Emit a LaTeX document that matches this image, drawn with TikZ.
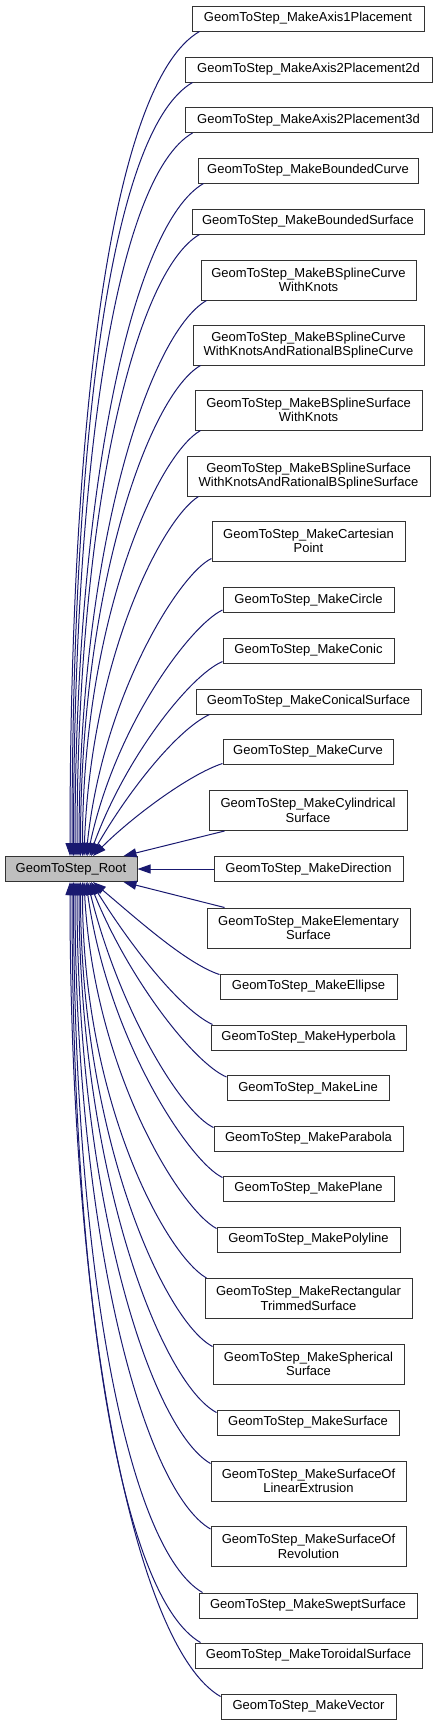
\documentclass[tikz,border=0pt]{standalone}
\usepackage{fontspec}
\setmainfont{Liberation Sans}
\usetikzlibrary{arrows.meta}
\definecolor{edgeblue}{HTML}{191970}
\definecolor{rootgray}{HTML}{BFBFBF}

\begin{document}
\begin{tikzpicture}[x=1pt,y=1pt,
  cls/.style={draw=black!80,fill=white,line width=1pt,inner sep=0pt,minimum height=25pt,align=center,font=\fontsize{13}{14.5}\selectfont},
  tall/.style={minimum height=40pt},
  edge/.style={draw=edgeblue,line width=1pt,-{Triangle[length=13pt,width=9pt]}}]
\useasboundingbox (0,0) rectangle (437,-1725);

% base class
\node[cls,fill=rootgray,minimum width=132pt] (root) at (71,-869) {GeomToStep\_Root};

% derived classes
\node[cls,minimum width=232pt] (axis1) at (308,-18.5) {GeomToStep\_MakeAxis1Placement};
\node[cls,minimum width=247pt] (axis2d) at (308.5,-69.5) {GeomToStep\_MakeAxis2Placement2d};
\node[cls,minimum width=247pt] (axis3d) at (308.5,-120) {GeomToStep\_MakeAxis2Placement3d};
\node[cls,minimum width=220pt] (bcurve) at (308,-170.5) {GeomToStep\_MakeBoundedCurve};
\node[cls,minimum width=232pt] (bsurf) at (308,-221.5) {GeomToStep\_MakeBoundedSurface};
\node[cls,tall,minimum width=215pt] (bscurve) at (308.5,-280) {GeomToStep\_MakeBSplineCurve\\WithKnots};
\node[cls,tall,minimum width=231pt] (bscurverat) at (308.5,-345) {GeomToStep\_MakeBSplineCurve\\WithKnotsAndRationalBSplineCurve};
\node[cls,tall,minimum width=227pt] (bssurf) at (308.5,-410) {GeomToStep\_MakeBSplineSurface\\WithKnots};
\node[cls,tall,minimum width=243pt] (bssurfrat) at (308.5,-476) {GeomToStep\_MakeBSplineSurface\\WithKnotsAndRationalBSplineSurface};
\node[cls,tall,minimum width=193pt] (cpoint) at (308.5,-541) {GeomToStep\_MakeCartesian\\Point};
\node[cls,minimum width=171pt] (circ) at (308.5,-600) {GeomToStep\_MakeCircle};
\node[cls,minimum width=171pt] (conic) at (308.5,-650.5) {GeomToStep\_MakeConic};
\node[cls,minimum width=225pt] (conical) at (308.5,-701.5) {GeomToStep\_MakeConicalSurface};
\node[cls,minimum width=170pt] (curve) at (308,-751.5) {GeomToStep\_MakeCurve};
\node[cls,tall,minimum width=198pt] (cyl) at (308,-810.5) {GeomToStep\_MakeCylindrical\\Surface};
\node[cls,minimum width=189pt] (dir) at (308.5,-869) {GeomToStep\_MakeDirection};
\node[cls,tall,minimum width=203pt] (elem) at (308.5,-928) {GeomToStep\_MakeElementary\\Surface};
\node[cls,minimum width=177pt] (ell) at (308.5,-986.5) {GeomToStep\_MakeEllipse};
\node[cls,minimum width=195pt] (hyper) at (308.5,-1037.5) {GeomToStep\_MakeHyperbola};
\node[cls,minimum width=162pt] (line) at (308,-1088) {GeomToStep\_MakeLine};
\node[cls,minimum width=189pt] (parab) at (308.5,-1138.5) {GeomToStep\_MakeParabola};
\node[cls,minimum width=171pt] (plane) at (308.5,-1188.5) {GeomToStep\_MakePlane};
\node[cls,minimum width=183pt] (polyl) at (308.5,-1239.5) {GeomToStep\_MakePolyline};
\node[cls,tall,minimum width=207pt] (recttrim) at (308.5,-1298.5) {GeomToStep\_MakeRectangular\\TrimmedSurface};
\node[cls,tall,minimum width=191pt] (spher) at (308.5,-1364) {GeomToStep\_MakeSpherical\\Surface};
\node[cls,minimum width=182pt] (surf) at (308,-1422.5) {GeomToStep\_MakeSurface};
\node[cls,tall,minimum width=195pt] (linext) at (308.5,-1481) {GeomToStep\_MakeSurfaceOf\\LinearExtrusion};
\node[cls,tall,minimum width=195pt] (revol) at (308.5,-1546.5) {GeomToStep\_MakeSurfaceOf\\Revolution};
\node[cls,minimum width=218pt] (swept) at (308,-1605.5) {GeomToStep\_MakeSweptSurface};
\node[cls,minimum width=227pt] (toroid) at (308.5,-1655.5) {GeomToStep\_MakeToroidalSurface};
\node[cls,minimum width=175pt] (vector) at (308.5,-1706.5) {GeomToStep\_MakeVector};

% edges above the root
\draw[edge] ([xshift=8pt]axis1.south west) to[out=210,in=90,out distance=99pt,in distance=454pt] ([xshift=-1pt]root.north);
\draw[edge] ([xshift=8pt]axis2d.south west) to[out=210,in=90,out distance=93pt,in distance=426pt] ([xshift=1pt]root.north);
\draw[edge] ([xshift=8pt]axis3d.south west) to[out=210,in=90,out distance=87pt,in distance=398pt] ([xshift=2.5pt]root.north);
\draw[edge] ([xshift=6pt]bcurve.south west) to[out=210,in=90,out distance=81pt,in distance=370pt] ([xshift=4pt]root.north);
\draw[edge] ([xshift=8pt]bsurf.south west) to[out=210,in=90,out distance=75pt,in distance=342pt] ([xshift=6pt]root.north);
\draw[edge] ([xshift=6pt]bscurve.south west) to[out=210,in=90,out distance=67pt,in distance=306pt] ([xshift=8pt]root.north);
\draw[edge] ([xshift=8pt]bscurverat.south west) to[out=210,in=90,out distance=59pt,in distance=270pt] ([xshift=9.5pt]root.north);
\draw[edge] ([xshift=6pt]bssurf.south west) to[out=210,in=90,out distance=51pt,in distance=234pt] ([xshift=11.5pt]root.north);
\draw[edge] ([xshift=12pt]bssurfrat.south west) to[out=212,in=88,out distance=43pt,in distance=198pt] ([xshift=13pt]root.north);
\draw[edge] ([yshift=3pt]cpoint.south west) to[out=205,in=84,out distance=35pt,in distance=162pt] ([xshift=15pt]root.north);
\draw[edge] ([yshift=3pt]circ.south west) to[out=205,in=78,out distance=35pt,in distance=134pt] ([xshift=16.5pt]root.north);
\draw[edge] ([yshift=2pt]conic.south west) to[out=203,in=70,out distance=35pt,in distance=106pt] ([xshift=18.5pt]root.north);
\draw[edge] ([xshift=14pt]conical.south west) to[out=205,in=60,out distance=35pt,in distance=78pt] ([xshift=20pt]root.north);
\draw[edge] ([yshift=1pt]curve.south west) to[out=198,in=45,out distance=35pt,in distance=55pt] ([xshift=22pt]root.north);

% straight edges
\draw[edge] ([xshift=16pt]cyl.south west) -- ([xshift=-14pt]root.north east);
\draw[edge] (dir) -- (root);
\draw[edge] ([xshift=18pt]elem.north west) -- ([xshift=-14pt]root.south east);

% edges below the root
\draw[edge] ([yshift=-1pt]ell.north west) to[out=162,in=-40,out distance=35pt,in distance=55pt] ([xshift=22pt]root.south);
\draw[edge] ([xshift=2pt]hyper.north west) to[out=155,in=-58,out distance=35pt,in distance=79pt] ([xshift=20pt]root.south);
\draw[edge] ([yshift=-2pt]line.north west) to[out=157,in=-68,out distance=35pt,in distance=106pt] ([xshift=18.5pt]root.south);
\draw[edge] ([yshift=-2pt]parab.north west) to[out=155,in=-76,out distance=35pt,in distance=134pt] ([xshift=16.5pt]root.south);
\draw[edge] ([yshift=-2pt]plane.north west) to[out=155,in=-82,out distance=35pt,in distance=162pt] ([xshift=15pt]root.south);
\draw[edge] ([yshift=-2pt]polyl.north west) to[out=152,in=-87,out distance=41pt,in distance=190pt] ([xshift=13pt]root.south);
\draw[edge] ([xshift=2pt]recttrim.north west) to[out=150,in=-90,out distance=48pt,in distance=218pt] ([xshift=11.5pt]root.south);
\draw[edge] ([yshift=-3pt]spher.north west) to[out=152,in=-90,out distance=55pt,in distance=254pt] ([xshift=9.5pt]root.south);
\draw[edge] ([yshift=-3pt]surf.north west) to[out=152,in=-90,out distance=63pt,in distance=290pt] ([xshift=8pt]root.south);
\draw[edge] ([yshift=-3pt]linext.north west) to[out=150,in=-90,out distance=69pt,in distance=318pt] ([xshift=6pt]root.south);
\draw[edge] ([yshift=-3pt]revol.north west) to[out=150,in=-90,out distance=77pt,in distance=355pt] ([xshift=4pt]root.south);
\draw[edge] ([xshift=4pt]swept.north west) to[out=150,in=-90,out distance=85pt,in distance=391pt] ([xshift=2.5pt]root.south);
\draw[edge] ([xshift=6pt]toroid.north west) to[out=150,in=-90,out distance=91pt,in distance=419pt] ([xshift=1pt]root.south);
\draw[edge] ([yshift=-3pt]vector.north west) to[out=150,in=-90,out distance=97pt,in distance=447pt] ([xshift=-1pt]root.south);
\end{tikzpicture}
\end{document}
